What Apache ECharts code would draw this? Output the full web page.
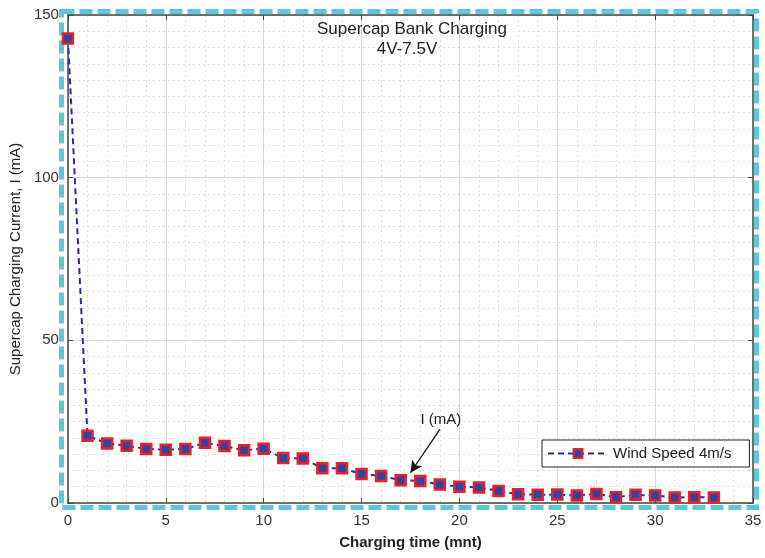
<!DOCTYPE html>
<html><head><meta charset="utf-8">
<script src="https://cdn.jsdelivr.net/npm/echarts@6/dist/echarts.min.js"></script>
<style>html,body{margin:0;padding:0;background:#fff}#c{width:765px;height:558px}</style>
</head><body><div id="c"></div>
<script>
const timeMin = [0,1,2,3,4,5,6,7,8,9,10,11,12,13,14,15,16,17,18,19,20,21,22,23,24,25,26,27,28,29,30,31,32,33];
const currentMA = [142.8,20.7,18.3,17.6,16.6,16.4,16.6,18.5,17.5,16.2,16.7,13.8,13.7,10.7,10.7,8.9,8.3,7.0,6.8,5.7,5.0,4.8,3.7,2.7,2.5,2.6,2.3,2.8,1.8,2.5,2.3,1.7,1.8,1.7];
const seriesName = 'Wind Speed 4m/s';
const titleText = 'Supercap Bank Charging';
const subText = '4V-7.5V';
const xLabel = 'Charging time (mnt)';
const yLabel = 'Supercap Charging Current, I (mA)';
const annotText = 'I (mA)';
const annotFrom = [19.0, 22.6];
const annotTo = [17.5, 9.3];

const chart = echarts.init(document.getElementById('c'));
const font = 'Liberation Sans, Arial, sans-serif';
const axisLineStyle = {color:'#444', width:1.5};
chart.setOption({
  backgroundColor:'#fff',
  animation:false,
  title:[{text:titleText, left:412, top:21, textAlign:'center', padding:0,
    textStyle:{fontFamily:font, fontSize:17, fontWeight:'normal', color:'#222'}},
   {text:subText, left:407, top:41, textAlign:'center', padding:0,
    textStyle:{fontFamily:font, fontSize:17, fontWeight:'normal', color:'#222'}}],
  grid:{left:67, top:15, right:12, bottom:55},
  legend:{left:542, top:440, orient:'horizontal', backgroundColor:'#fff', borderColor:'#222', borderWidth:1,
    padding:[6,18,6,5], itemWidth:60, itemHeight:11, itemGap:4,
    textStyle:{fontFamily:font, fontSize:15, color:'#222', padding:[0,0,0,0]}},
  xAxis:[{type:'value', min:0, max:35, interval:5, position:'bottom',
    name:xLabel, nameLocation:'middle', nameGap:32,
    nameTextStyle:{fontFamily:font, fontSize:15, fontWeight:'bold', color:'#222'},
    axisLine:{show:true, onZero:false, lineStyle:axisLineStyle},
    axisTick:{show:true, inside:true, length:5, lineStyle:{color:'#444'}},
    axisLabel:{fontFamily:font, fontSize:15, color:'#333', margin:10},
    splitLine:{show:true, lineStyle:{color:'#d8d8d8', width:1}},
    minorTick:{show:false, splitNumber:5},
    minorSplitLine:{show:true, lineStyle:{color:'#dedede', type:[2,3], width:1}}},
   {type:'value', min:0, max:35, interval:5, position:'top',
    axisLine:{show:true, onZero:false, lineStyle:axisLineStyle},
    axisTick:{show:true, inside:true, length:5, lineStyle:{color:'#444'}},
    axisLabel:{show:false}, splitLine:{show:false}}],
  yAxis:[{type:'value', min:0, max:150, interval:50, position:'left',
    name:yLabel, nameLocation:'middle', nameGap:44,
    nameTextStyle:{fontFamily:font, fontSize:15, color:'#222'},
    axisLine:{show:true, onZero:false, lineStyle:axisLineStyle},
    axisTick:{show:true, inside:true, length:5, lineStyle:{color:'#444'}},
    axisLabel:{fontFamily:font, fontSize:15, color:'#333', margin:9},
    splitLine:{show:true, lineStyle:{color:'#d8d8d8', width:1}},
    minorTick:{show:false, splitNumber:10},
    minorSplitLine:{show:true, lineStyle:{color:'#dedede', type:[2,3], width:1}}},
   {type:'value', min:0, max:150, interval:50, position:'right',
    axisLine:{show:true, onZero:false, lineStyle:axisLineStyle},
    axisTick:{show:true, inside:true, length:5, lineStyle:{color:'#444'}},
    axisLabel:{show:false}, splitLine:{show:false}}],
  series:[{
    name:seriesName, type:'line', xAxisIndex:0, yAxisIndex:0,
    data:timeMin.map((t,i)=>[t,currentMA[i]]),
    symbol:'rect', symbolSize:10,
    lineStyle:{color:'#2a2aa8', width:2, type:[6,4]},
    itemStyle:{color:'#34449e', borderColor:'#e8202a', borderWidth:2.5},
    markLine:{silent:true, symbol:['none','arrow'], symbolSize:[9,12],
      lineStyle:{color:'#111', width:1.3, type:'solid'},
      label:{show:true, position:'start', formatter:annotText, fontFamily:font, fontSize:15, color:'#222', distance:2},
      data:[[{coord:annotFrom},{coord:annotTo}]]}
  }],
  graphic:[{type:'rect', shape:{x:61.5, y:11.5, width:695, height:496},
    style:{fill:'none', stroke:'#5ec8d8', lineWidth:5, lineDash:[13,5]}, z:-1}]
});
</script></body></html>
